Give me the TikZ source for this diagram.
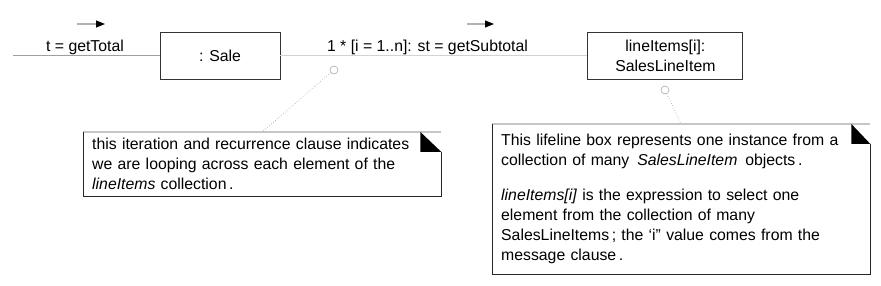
\documentclass[tikz,border=0pt]{standalone}
\usepackage{fontspec}
\setmainfont{Liberation Sans}
\usetikzlibrary{arrows.meta,positioning}

\begin{document}
\begin{tikzpicture}[
  x=1pt, y=-1pt,
  font=\fontsize{15.8}{20}\selectfont,
  lifeline/.style={draw=black!80, line width=0.9pt, minimum height=47pt, align=center, inner sep=0pt},
  msgline/.style={draw=gray!75, line width=1.4pt},
  linkline/.style={draw=gray!35, line width=1.8pt},
  dirarrow/.style={-{Triangle[length=9pt,width=7pt,black]}, draw=gray!60, line width=1.2pt},
  notebox/.style={anchor=north west, align=left, inner xsep=9pt, inner ysep=0pt},
  noteframe/.style={draw=black!85, line width=0.9pt},
  notetop/.style={draw=gray!45, line width=1.4pt},
  pinline/.style={dotted, draw=gray!80, line width=0.6pt},
  pincircle/.style={circle, draw=gray!90, fill=white, minimum size=8pt, inner sep=0pt}
]
\useasboundingbox (0,0) rectangle (881,286);

% lifelines and messages
\node[lifeline, minimum width=120pt] (sale) at (220,55.5) {: Sale};
\node[lifeline, minimum width=155pt, right=307pt of sale] (lineitem) {lineItems[i]:\\SalesLineItem};
\coordinate (caller) at (13,55.5);
\draw[msgline] (caller) -- (sale);
\draw[linkline] (sale) -- (lineitem);

\node[anchor=base] (totallbl) at (85,52) {t = getTotal};
\node[anchor=base] (subtotallbl) at (427.5,52) {1 * [i = 1..n]: st = getSubtotal};
\coordinate (totaltail) at (77,24);
\coordinate (totalhead) at (105,24);
\coordinate (subtail) at (467,24);
\coordinate (subhead) at (494,24);
\draw[dirarrow] (totaltail) -- (totalhead);
\draw[dirarrow] (subtail) -- (subhead);

% notes
\node[notebox, minimum width=358pt, minimum height=64pt, text width=340pt] (iternote) at (83,132)
  {this iteration and recurrence clause indicates\\
   we are looping across each element of the\\
   \textit{lineItems} collection\,.};
\node[notebox, minimum width=378pt, minimum height=150pt, text width=360pt] (itemnote) at (492,124)
  {This lifeline box represents one instance from a\\
   collection of many\ \,\textit{SalesLineItem}\ \,objects\,.\\[15pt]
   \textit{lineItems[i]} is the expression to select one\\
   element from the collection of many\\
   SalesLineItems\,; the ‘i” value comes from the\\
   message clause\,.};

\draw[notetop] (iternote.north west) -- (iternote.north east);
\draw[noteframe] (iternote.north east) ++(0,20) |- (iternote.south west) -- (iternote.north west);
\fill (iternote.north east) ++(-21,0) -- ++(0,20) -- ++(21,0) -- cycle;

\draw[notetop] (itemnote.north west) -- (itemnote.north east);
\draw[noteframe] (itemnote.north east) ++(0,20) |- (itemnote.south west) -- (itemnote.north west);
\fill (itemnote.north east) ++(-19,0) -- ++(0,20) -- ++(19,0) -- cycle;

% anchors
\node[pincircle] (salepin) at (334,70) {};
\node[pincircle] (itempin) at (665,90) {};
\coordinate (iteranchor) at (262,132);
\coordinate (itemanchor) at (681,124);
\draw[pinline] (salepin) -- (iteranchor);
\draw[pinline] (itempin) -- (itemanchor);
\end{tikzpicture}
\end{document}
